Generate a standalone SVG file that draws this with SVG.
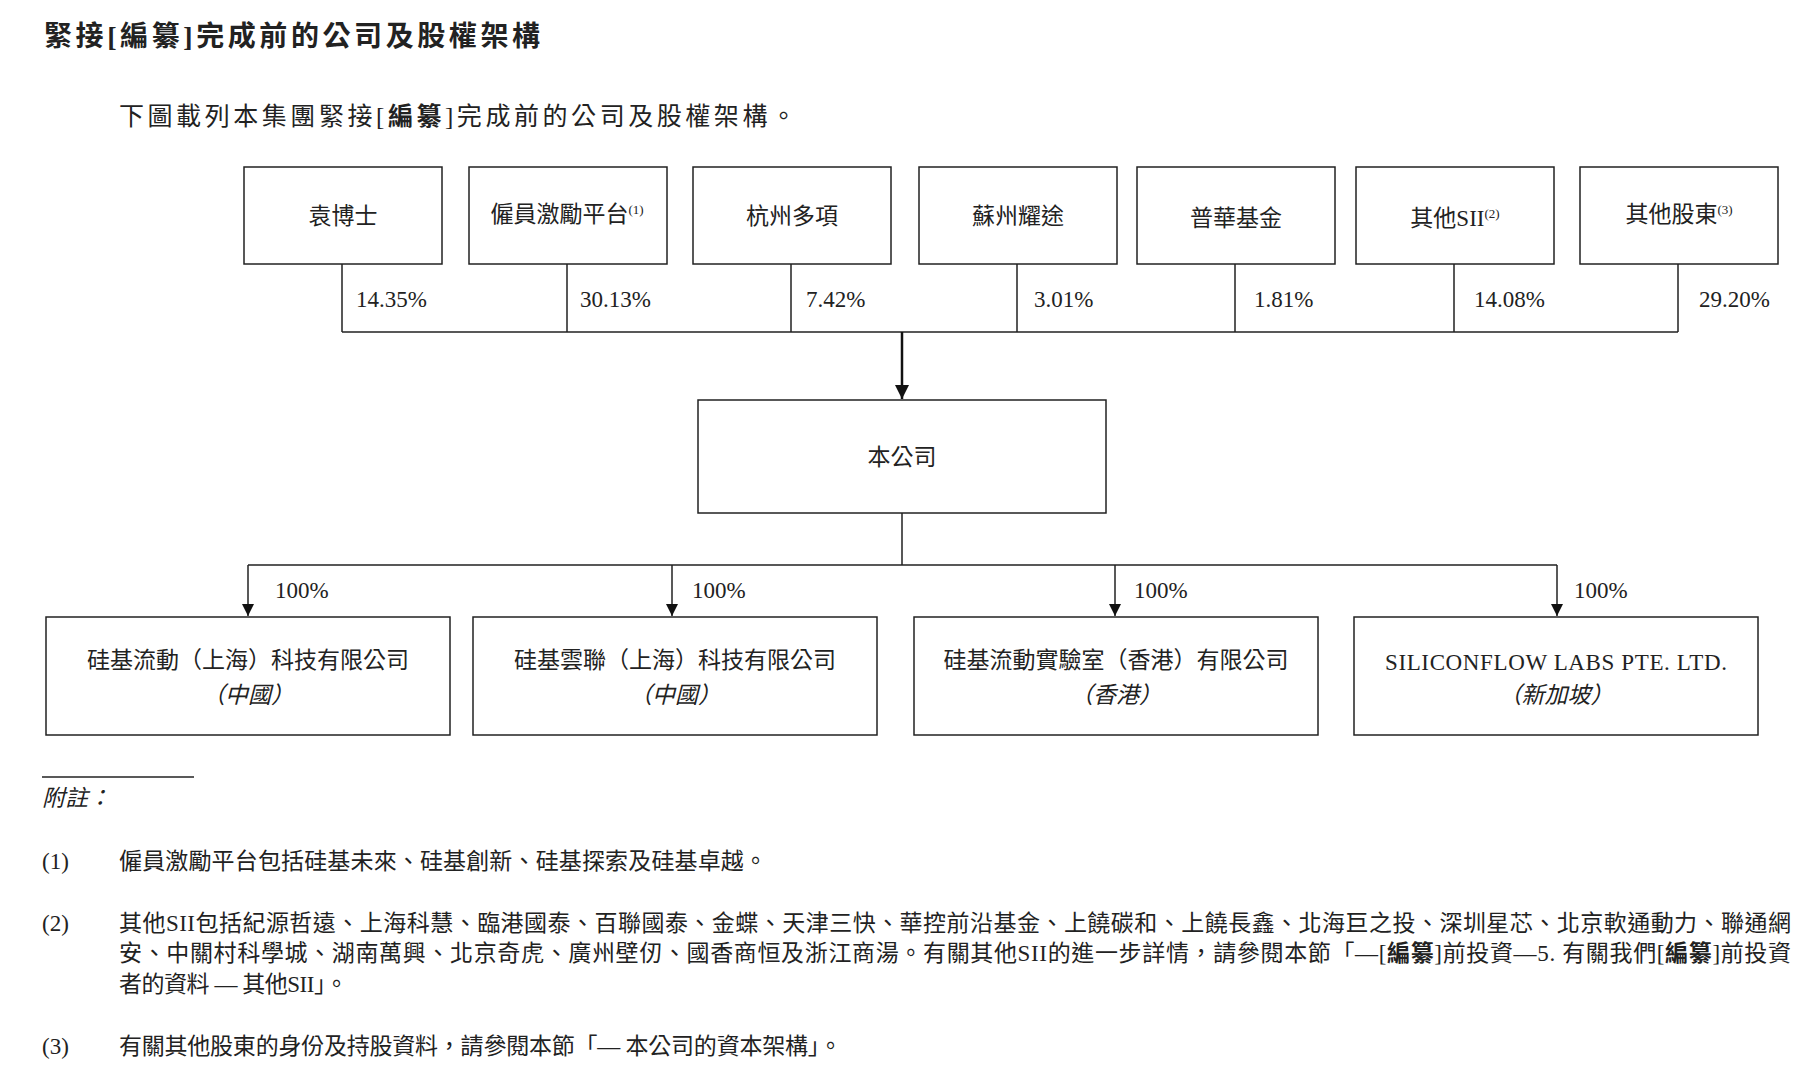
<svg xmlns="http://www.w3.org/2000/svg" width="1800" height="1082" viewBox="0 0 1800 1082">
<defs>
<style>
text{font-family:"Liberation Serif","Noto Sans CJK TC",serif;fill:#222}
.t{font-size:23px}
.c{text-anchor:middle}
.box{fill:#fff;stroke:#222;stroke-width:1.5}
.ln{fill:none;stroke:#222;stroke-width:1.5}
.sup{font-size:13px}
.it{font-style:italic}
.b{font-weight:bold}
</style>
<marker id="ar" viewBox="0 0 10 10" refX="10" refY="5" markerWidth="12" markerHeight="12" markerUnits="userSpaceOnUse" orient="auto"><path d="M0,0L10,5L0,10z" fill="#111"/></marker>
<marker id="ar2" viewBox="0 0 10 10" refX="10" refY="5" markerWidth="16" markerHeight="14" markerUnits="userSpaceOnUse" orient="auto"><path d="M0,0L10,5L0,10z" fill="#111"/></marker>
</defs>
<rect width="1800" height="1082" fill="#fff"/>
<text x="44" y="46" font-size="28" class="b" textLength="496">緊接[編纂]完成前的公司及股權架構</text>
<text x="119" y="125" font-size="25" textLength="677">下圖載列本集團緊接[<tspan class="b">編纂</tspan>]完成前的公司及股權架構。</text>

<g id="connectors">
<path class="ln" d="M342,264V332M567,264V332M791,264V332M1017,264V332M1235,264V332M1454,264V332M1678,264V332M342,332H1678"/>
<line x1="902" y1="332" x2="902" y2="399" stroke="#111" stroke-width="2.5" marker-end="url(#ar2)"/>
<path class="ln" d="M902,513V565M248,565H1557"/>
<line class="ln" x1="248" y1="565" x2="248" y2="616" marker-end="url(#ar)"/>
<line class="ln" x1="672" y1="565" x2="672" y2="616" marker-end="url(#ar)"/>
<line class="ln" x1="1115" y1="565" x2="1115" y2="616" marker-end="url(#ar)"/>
<line class="ln" x1="1557" y1="565" x2="1557" y2="616" marker-end="url(#ar)"/>
<g class="t">
<text x="356" y="307">14.35%</text><text x="580" y="307">30.13%</text><text x="806" y="307">7.42%</text>
<text x="1034" y="307">3.01%</text><text x="1254" y="307">1.81%</text><text x="1474" y="307">14.08%</text><text x="1699" y="307">29.20%</text>
<text x="275" y="598">100%</text><text x="692" y="598">100%</text><text x="1134" y="598">100%</text><text x="1574" y="598">100%</text>
</g>
</g>

<g id="n1"><rect class="box" x="244" y="167" width="198" height="97"/><text class="t c" x="343" y="224">袁博士</text></g>
<g id="n2"><rect class="box" x="469" y="167" width="198" height="97"/><text class="t c" x="567" y="222">僱員激勵平台<tspan class="sup" dy="-8">(1)</tspan></text></g>
<g id="n3"><rect class="box" x="693" y="167" width="198" height="97"/><text class="t c" x="792" y="224">杭州多項</text></g>
<g id="n4"><rect class="box" x="919" y="167" width="198" height="97"/><text class="t c" x="1018" y="224">蘇州耀途</text></g>
<g id="n5"><rect class="box" x="1137" y="167" width="198" height="97"/><text class="t c" x="1236" y="226">普華基金</text></g>
<g id="n6"><rect class="box" x="1356" y="167" width="198" height="97"/><text class="t c" x="1455" y="226">其他SII<tspan class="sup" dy="-8">(2)</tspan></text></g>
<g id="n7"><rect class="box" x="1580" y="167" width="198" height="97"/><text class="t c" x="1679" y="222">其他股東<tspan class="sup" dy="-8">(3)</tspan></text></g>

<g id="company"><rect class="box" x="698" y="400" width="408" height="113"/><text class="t c" x="902" y="465">本公司</text></g>

<g id="s1"><rect class="box" x="46" y="617" width="404" height="118"/><text class="t c" x="248" y="668">硅基流動（上海）科技有限公司</text><text class="t c it" x="248" y="703">（中國）</text></g>
<g id="s2"><rect class="box" x="473" y="617" width="404" height="118"/><text class="t c" x="675" y="668">硅基雲聯（上海）科技有限公司</text><text class="t c it" x="675" y="703">（中國）</text></g>
<g id="s3"><rect class="box" x="914" y="617" width="404" height="118"/><text class="t c" x="1116" y="668">硅基流動實驗室（香港）有限公司</text><text class="t c it" x="1116" y="703">（香港）</text></g>
<g id="s4"><rect class="box" x="1354" y="617" width="404" height="118"/><text class="t c" x="1556" y="670" textLength="342">SILICONFLOW LABS PTE. LTD.</text><text class="t c it" x="1556" y="703">（新加坡）</text></g>

<line class="ln" x1="42" y1="777" x2="194" y2="777"/>
<g class="t">
<text x="42" y="806" class="it">附註：</text>
<text x="42" y="869">(1)</text>
<text x="119" y="869" textLength="648">僱員激勵平台包括硅基未來、硅基創新、硅基探索及硅基卓越。</text>
<text x="42" y="931">(2)</text>
<text x="119" y="931" textLength="1672">其他SII包括紀源哲遠、上海科慧、臨港國泰、百聯國泰、金蝶、天津三快、華控前沿基金、上饒碳和、上饒長鑫、北海巨之投、深圳星芯、北京軟通動力、聯通網</text>
<text x="119" y="961" textLength="1672">安、中關村科學城、湖南萬興、北京奇虎、廣州壁仞、國香商恒及浙江商湯。有關其他SII的進一步詳情，請參閱本節「—[<tspan class="b">編纂</tspan>]前投資—5. 有關我們[<tspan class="b">編纂</tspan>]前投資</text>
<text x="119" y="992" textLength="229">者的資料 — 其他SII」。</text>
<text x="42" y="1054">(3)</text>
<text x="119" y="1054" textLength="723">有關其他股東的身份及持股資料，請參閱本節「— 本公司的資本架構」。</text>
</g>
</svg>
